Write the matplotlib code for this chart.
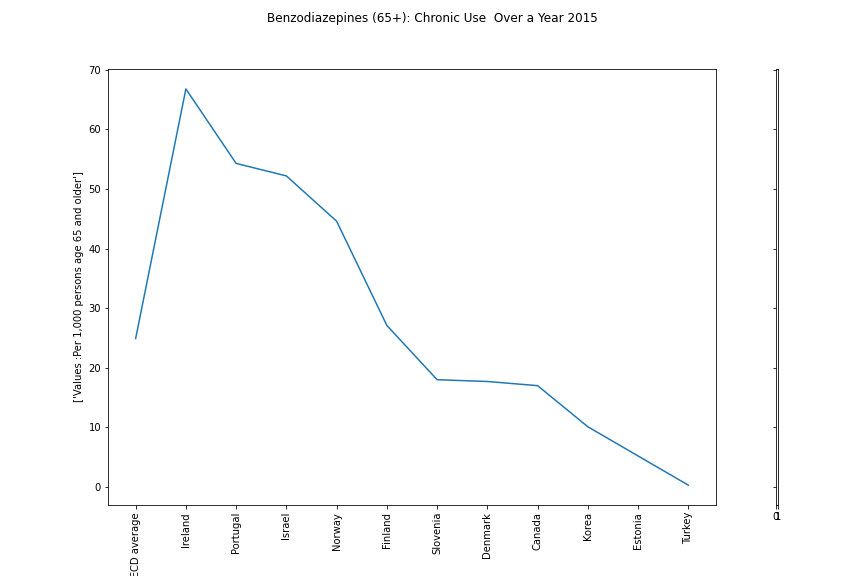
import matplotlib
matplotlib.use('Agg')
import matplotlib.pyplot as plt

countries = ["OECD average", "Ireland", "Portugal", "Israel", "Norway", "Finland",
             "Slovenia", "Denmark", "Canada", "Korea", "Estonia", "Turkey"]
values = [24.9, 66.8, 54.3, 52.2, 44.6, 27.1, 18.0, 17.7, 17.0, 10.1, 5.2, 0.3]

fig = plt.figure(figsize=(12, 8), dpi=72)
ax = fig.add_axes([0.125, 0.1233, 0.7037, 0.7567])
ax.plot(countries, values)
ax.set_ylabel("['Values :Per 1,000 persons age 65 and older']")
ax.tick_params(axis='x', labelrotation=90)

# thin side axes
ax2 = fig.add_axes([0.898, 0.1233, 0.0025, 0.7567], sharey=ax)
ax2.set_xlim(0, 1)
ax2.set_xticks([0, 1])
ax2.tick_params(axis='y', labelleft=False)

fig.suptitle("Benzodiazepines (65+): Chronic Use  Over a Year 2015")
fig.savefig("out.png", dpi=72)
